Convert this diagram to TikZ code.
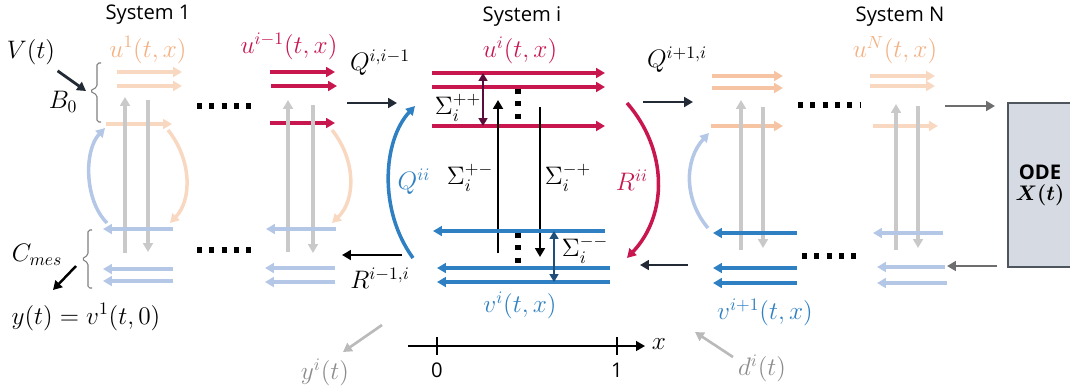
\documentclass[tikz,border=0pt]{standalone}
\usepackage{amsmath,amssymb,bm}
\usepackage{fontspec}
\setmainfont{Open Sans}
\usepackage{xcolor}
\usepackage{tikz}
\usetikzlibrary{arrows.meta}
\definecolor{PdeRed}{HTML}{C8174F}
\definecolor{PdeBlue}{HTML}{2F80C2}
\definecolor{PdeLightBlue}{HTML}{B4C7E7}
\definecolor{PdeOrange}{HTML}{F4B183}
\definecolor{PdeLightOrange}{HTML}{F9D8C2}
\definecolor{PdeMidOrange}{HTML}{F6C4A2}
\definecolor{PdeGray}{HTML}{C9C9C9}
\definecolor{PdeGrayText}{HTML}{8C8C8C}
\definecolor{PdeDarkGray}{HTML}{6E6E6E}
\definecolor{PdeNavy}{HTML}{222A35}
\definecolor{PdePurple}{HTML}{5B0E3A}
\definecolor{PdeDarkBlue}{HTML}{1F4E79}
\definecolor{OdeFill}{HTML}{D6DAE2}

\begin{document}
\begin{tikzpicture}[x=0.02cm,y=-0.02cm,font=\fontsize{11.5}{13}\selectfont,
  flowtip/.style={-{Triangle[length=5pt,width=5.5pt]}},
  redarr/.style={flowtip,PdeRed,line width=2pt},
  bluearr/.style={flowtip,PdeBlue,line width=2pt},
  lbluearr/.style={flowtip,PdeLightBlue,line width=2pt},
  lorangearr/.style={flowtip,PdeLightOrange,line width=2pt},
  morangearr/.style={flowtip,PdeMidOrange,line width=2pt},
  grayarr/.style={flowtip,PdeGray,line width=2pt},
  navyarr/.style={flowtip,PdeNavy,line width=1.6pt},
  blackarr/.style={flowtip,black,line width=1.4pt},
  dotrow/.style={line width=2.9pt,dash pattern=on 2.9pt off 4.1pt},
  bracket/.style={gray,line width=0.6pt,rounded corners=1pt},
  mlbl/.style={font=\fontsize{14.5}{16}\selectfont}]
  \useasboundingbox (0,0) rectangle (1070,389);

  \node (sys1) at (148,15) {System 1};
  \node (sysi) at (522,17) {System i};
  \node (sysN) at (900,17) {System N};

  \node[mlbl,PdeOrange] (u1) at (148,50) {$u^1(t,x)$};
  \node[mlbl] (vt) at (31,52) {$V(t)$};
  \node[mlbl] (b0) at (63,102) {$B_0$};
  \coordinate (b0tip) at (86,91);
  \draw[bracket] (101,63) -- (97,63) -- (97,87) -- (90,91) -- (97,95) -- (97,122) -- (101,122);
  \draw[navyarr] (vt) -- (b0tip);
  \draw[lorangearr] (117,72) -- (182,72);
  \draw[lorangearr] (117,86) -- (182,86);
  \draw[lorangearr] (106,124) -- (172,124);
  \draw[grayarr] (125,253) -- (125,97);
  \draw[grayarr] (148,100) -- (148,252);
  \draw[lbluearr] (107,223) .. controls (84,200) and (84,150) .. (105,128);
  \draw[lorangearr] (168,130) .. controls (192,160) and (192,200) .. (170,223);
  \draw[lbluearr] (173,229) -- (103,229);
  \draw[lbluearr] (173,269) -- (103,269);
  \draw[lbluearr] (173,281) -- (103,281);
  \draw[bracket] (92,230) -- (88,230) -- (88,255) -- (82,259) -- (88,263) -- (88,288) -- (92,288);
  \node[mlbl] (cmes) at (37,255) {$C_{mes}$};
  \node[mlbl] (yt) at (86,317) {$y(t)=v^1(t,0)$};
  \coordinate (cmesout) at (76,266);
  \coordinate (ytin) at (53,290);
  \draw[blackarr] (cmesout) -- (ytin);

  \draw[dotrow] (197,106) -- (253,106);
  \draw[dotrow] (197,250) -- (253,250);

  \node[mlbl,PdeRed] (uim) at (289,46) {$u^{i-1}(t,x)$};
  \draw[redarr] (270,72) -- (335,72);
  \draw[redarr] (271,86) -- (337,86);
  \draw[redarr] (270,123) -- (335,123);
  \draw[grayarr] (288,252) -- (288,100);
  \draw[grayarr] (313,105) -- (313,253);
  \draw[lorangearr] (332,130) .. controls (356,160) and (356,200) .. (332,223);
  \draw[lbluearr] (336,229) -- (266,229);
  \draw[lbluearr] (335,268) -- (265,268);
  \draw[lbluearr] (335,282) -- (265,282);

  \node[mlbl] (qiim) at (380,63) {$Q^{i,i-1}$};
  \draw[navyarr] (347,103) -- (397,103);
  \draw[bluearr] (413,258) .. controls (378,210) and (383,140) .. (415,106);
  \node[mlbl,PdeBlue] (qii) at (414,182) {$Q^{ii}$};
  \draw[blackarr,line width=1.6pt] (402,255) -- (342,255);
  \node[mlbl] (rimi) at (380,278) {$R^{i-1,i}$};
  \node[mlbl,PdeGrayText] (yi) at (325,372) {$y^i(t)$};
  \coordinate (yiout) at (382,325);
  \draw[flowtip,PdeGray!80!gray,line width=1.5pt] (yiout) -- (343,352);

  \node[mlbl,PdeRed] (ui) at (520,50) {$u^i(t,x)$};
  \draw[redarr] (432,73) -- (605,73);
  \draw[redarr] (432,87) -- (605,87);
  \draw[redarr] (432,126) -- (605,126);
  \draw[PdePurple,line width=1.4pt,{Triangle[length=4.5pt,width=5pt]}-{Triangle[length=4.5pt,width=5pt]}] (483,73) -- (483,126);
  \node[mlbl] (spp) at (458,108) {$\Sigma_i^{++}$};
  \draw[dotrow] (518,89) -- (518,121);
  \draw[blackarr] (498,253) -- (498,100);
  \draw[blackarr] (540,107) -- (540,257);
  \node[mlbl] (spm) at (470,178) {$\Sigma_i^{+-}$};
  \node[mlbl] (smp) at (568,178) {$\Sigma_i^{-+}$};
  \draw[redarr] (627,103) .. controls (668,150) and (668,215) .. (627,258);
  \node[mlbl,PdeRed] (rii) at (632,180) {$R^{ii}$};
  \draw[bluearr] (605,231) -- (433,231);
  \draw[bluearr] (610,268) -- (437,268);
  \draw[bluearr] (610,282) -- (437,282);
  \draw[PdeDarkBlue,line width=1.4pt,{Triangle[length=4.5pt,width=5pt]}-{Triangle[length=4.5pt,width=5pt]}] (554,231) -- (554,282);
  \node[mlbl] (smm) at (585,250) {$\Sigma_i^{--}$};
  \draw[dotrow] (518,233) -- (518,265);
  \node[mlbl,PdeBlue] (vi) at (520,305) {$v^i(t,x)$};

  \draw[flowtip,line width=1pt] (408,346) -- (645,346);
  \draw[line width=1.5pt] (437,337) -- (437,355);
  \draw[line width=1.5pt] (617,337) -- (617,355);
  \node (x0) at (437,370) {0};
  \node (x1) at (617,370) {1};
  \node[mlbl] (xlbl) at (659,344) {$x$};

  \node[mlbl] (qipi) at (677,60) {$Q^{i+1,i}$};
  \draw[navyarr] (643,102) -- (693,102);
  \draw[navyarr] (688,265) -- (640,265);

  \draw[morangearr] (712,76) -- (783,76);
  \draw[morangearr] (712,88) -- (783,88);
  \draw[morangearr] (711,126) -- (783,126);
  \draw[grayarr] (741,250) -- (741,100);
  \draw[grayarr] (763,107) -- (763,248);
  \draw[lbluearr] (708,228) .. controls (684,200) and (684,160) .. (709,133);
  \draw[bluearr] (797,233) -- (713,233);
  \draw[bluearr] (797,268) -- (713,268);
  \draw[bluearr] (797,283) -- (713,283);
  \node[mlbl,PdeBlue] (vip) at (765,312) {$v^{i+1}(t,x)$};
  \node[mlbl,PdeGrayText] (di) at (762,368) {$d^i(t)$};
  \coordinate (diout) at (733,357);
  \draw[flowtip,PdeGray!80!gray,line width=1.5pt] (diout) -- (695,332);

  \draw[dotrow] (798,105) -- (860,105);
  \draw[dotrow] (802,256) -- (862,256);

  \node[mlbl,PdeOrange] (uN) at (895,50) {$u^N(t,x)$};
  \draw[lorangearr] (870,76) -- (935,76);
  \draw[lorangearr] (870,86) -- (935,86);
  \draw[lorangearr] (873,126) -- (938,126);
  \draw[grayarr] (896,250) -- (896,104);
  \draw[grayarr] (918,106) -- (918,248);
  \draw[lbluearr] (943,233) -- (873,233);
  \draw[lbluearr] (945,267) -- (877,267);
  \draw[lbluearr] (947,283) -- (877,283);

  \node[draw=PdeNavy!80,fill=OdeFill,line width=0.8pt,minimum width=36.4pt,minimum height=93.3pt,align=center] (ode) at (1040,185) {\textbf{ODE}\\[-1pt]$\bm{X(t)}$};
  \coordinate (odein) at (995,106);
  \coordinate (odeout) at (997,266);
  \draw[flowtip,PdeDarkGray,line width=1.6pt] (945,106) -- (odein);
  \draw[flowtip,PdeDarkGray,line width=1.6pt] (odeout) -- (947,266);
\end{tikzpicture}
\end{document}
